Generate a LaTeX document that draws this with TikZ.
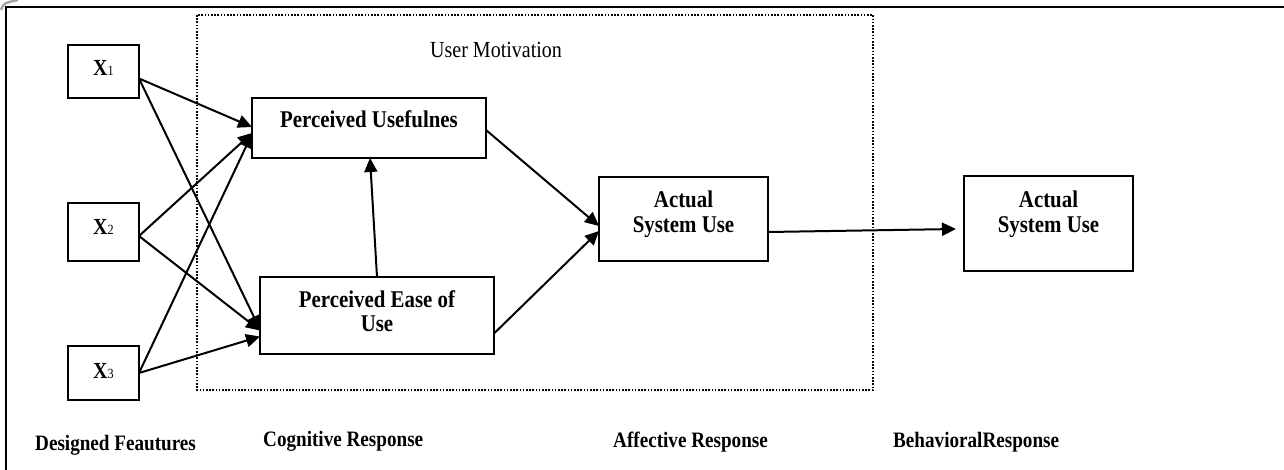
\documentclass[tikz,border=0pt]{standalone}
\usepackage{fontspec}
\setmainfont{Liberation Serif}[FakeStretch=0.87]
\usetikzlibrary{arrows.meta,calc}
\newcommand{\bxt}[4]{\parbox[c][#2pt][t]{#1pt}{\centering\fontsize{24}{24.5}\selectfont\bfseries\rule{0pt}{#3pt}#4}}
\newcommand{\xlab}[1]{{\fontsize{23}{24}\selectfont\bfseries X}{\fontsize{14}{14}\selectfont #1}}
\tikzset{
  box/.style={draw, line width=2pt, inner sep=0pt, outer sep=0pt},
  conn/.style={line width=2pt, -{Triangle[length=14pt,width=13pt]}},
  frameline/.style={line width=2.4pt},
  grp/.style={line width=1.6pt, dash pattern=on 1.6pt off 1.6pt},
  btm/.style={anchor=base west, inner sep=0pt, font=\fontsize{22}{24}\selectfont\bfseries},
}
\begin{document}
\begin{tikzpicture}[x=1pt,y=-1pt]
\useasboundingbox (0,0) rectangle (1284,470);
% frame
\draw[gray!70, line width=2.5pt] (1,10) .. controls (4,3) .. (18,0);
\draw[frameline] (6,470) -- (6,7) -- (1284,7);
% group box
\draw[grp] (197,15) rectangle (873,390);
\node[anchor=base west, inner sep=0pt, font=\fontsize{23}{24}\selectfont] (um) at (430,58) {User Motivation};
% input boxes
\node[box] (x1) at (103.5,71.5) {\parbox[c][53pt][t]{71pt}{\centering\rule{0pt}{31pt}\xlab{1}}};
\node[box] (x2) at (103.5,232) {\parbox[c][58pt][t]{71pt}{\centering\rule{0pt}{32pt}\xlab{2}}};
\node[box] (x3) at (103.5,373) {\parbox[c][54pt][t]{71pt}{\centering\rule{0pt}{32pt}\xlab{3}}};
% constructs
\node[box] (pu) at (369,128) {\bxt{234}{60}{30}{Perceived Usefulnes}};
\node[box] (peou) at (377,315.5) {\bxt{234}{77}{30}{Perceived Ease of\\Use}};
\node[box] (asu1) at (683.5,219) {\bxt{169}{84}{31}{Actual\\System Use}};
\node[box] (asu2) at (1048.5,223.5) {\bxt{169}{95}{32}{Actual\\System Use}};
% connectors
\draw[conn] ($(x1.east)+(0,7)$) -- ($(pu.west)+(0,-1)$);
\draw[conn] ($(x1.east)+(0,7)$) -- ($(peou.west)+(0,14)$);
\draw[conn] ($(x2.east)+(0,4)$) -- ($(pu.west)+(0,5)$);
\draw[conn] ($(x2.east)+(0,4)$) -- ($(peou.west)+(0,15)$);
\draw[conn] (x3.east) -- ($(pu.west)+(0,6)$);
\draw[conn] (x3.east) -- ($(peou.west)+(0,21)$);
\draw[conn] (peou.north) -- ($(pu.south)+(1,0)$);
\draw[conn] ($(pu.east)+(0,2)$) -- ($(asu1.west)+(0,7)$);
\draw[conn] ($(peou.east)+(0,18)$) -- ($(asu1.west)+(0,12)$);
\draw[conn] ($(asu1.east)+(0,13)$) -- ($(asu2.west)+(-8,5.5)$);
% bottom labels
\node[btm] (l1) at (35,450) {Designed Feautures};
\node[btm] (l2) at (263,446) {Cognitive Response};
\node[btm] (l3) at (613,447) {Affective Response};
\node[btm] (l4) at (893,447) {BehavioralResponse};
\end{tikzpicture}
\end{document}
